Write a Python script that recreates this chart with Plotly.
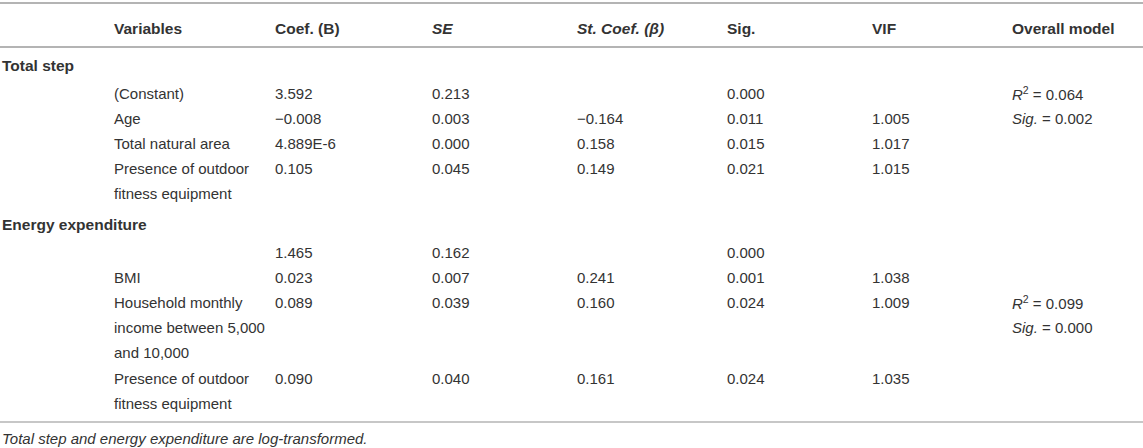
import plotly.graph_objects as go

# ---------------- data ----------------
headers = ["Variables", "Coef. (B)", "<i>SE</i>", "<i>St. Coef. (β)</i>", "Sig.", "VIF", "Overall model"]

groups = ["Total step", "Energy expenditure"]

variables_total = ["(Constant)", "Age", "Total natural area", "Presence of outdoor<br>fitness equipment"]
coef_total = ["3.592", "−0.008", "4.889E-6", "0.105"]
se_total = ["0.213", "0.003", "0.000", "0.045"]
stcoef_total = ["", "−0.164", "0.158", "0.149"]
sig_total = ["0.000", "0.011", "0.015", "0.021"]
vif_total = ["", "1.005", "1.017", "1.015"]
model_total = "<i>R</i><sup>2</sup> = 0.064<br><i>Sig.</i> = 0.002"
model_total_row = 0

variables_energy = ["", "BMI", "Household monthly<br>income between 5,000<br>and 10,000", "Presence of outdoor<br>fitness equipment"]
coef_energy = ["1.465", "0.023", "0.089", "0.090"]
se_energy = ["0.162", "0.007", "0.039", "0.040"]
stcoef_energy = ["", "0.241", "0.160", "0.161"]
sig_energy = ["0.000", "0.001", "0.024", "0.024"]
vif_energy = ["", "1.038", "1.009", "1.035"]
model_energy = "<i>R</i><sup>2</sup> = 0.099<br><i>Sig.</i> = 0.000"
model_energy_row = 2

footnote = "<i>Total step and energy expenditure are log-transformed.</i>"

# ---------------- layout ----------------
W, H = 1143, 448
FONT = "Liberation Sans, Arial, Helvetica, sans-serif"
TXT = "#333333"
LINE = "#b4b4b4"
FS = 15
FSB = 15.5
col_x = [112, 273, 430, 575, 725, 870, 1010]
group_x = 0
LH = 25.2

annotations = []


def add_text(x, y, text, bold=False, size=FS):
    if not text:
        return
    for i, line in enumerate(text.split("<br>")):
        if bold:
            line = "<b>" + line + "</b>"
        annotations.append(dict(
            x=x, y=y + i * LH, xref="x", yref="y", text=line,
            showarrow=False, xanchor="left", yanchor="middle",
            font=dict(family=FONT, size=size, color=TXT),
        ))


# header
for cx, h in zip(col_x, headers):
    add_text(cx, 28, h, bold=True, size=FSB)

group_data = [
    (variables_total, coef_total, se_total, stcoef_total, sig_total, vif_total, model_total, model_total_row),
    (variables_energy, coef_energy, se_energy, stcoef_energy, sig_energy, vif_energy, model_energy, model_energy_row),
]

y = 65
for gname, (vars_, coef, se, stc, sig, vif, model, mrow) in zip(groups, group_data):
    add_text(group_x, y, gname, bold=True, size=FSB)
    y += 28
    for r in range(len(vars_)):
        cells = [vars_[r], coef[r], se[r], stc[r], sig[r], vif[r]]
        for cx, c in zip(col_x[:6], cells):
            add_text(cx, y, c)
        if r == mrow:
            add_text(col_x[6], y, model)
        n = max(len(c.split("<br>")) for c in cells)
        y += n * LH
    y += 5

add_text(group_x, 438, footnote, size=FS)

shapes = []
for yy, w in [(3, 2), (47, 2), (422, 1.5)]:
    shapes.append(dict(type="line", xref="x", yref="y", x0=0, x1=W, y0=yy, y1=yy,
                       line=dict(color=LINE, width=w)))

fig = go.Figure(go.Scatter(x=[], y=[]))
fig.update_layout(
    width=W, height=H,
    margin=dict(l=0, r=0, t=0, b=0),
    paper_bgcolor="white", plot_bgcolor="white",
    xaxis=dict(range=[0, W], visible=False, fixedrange=True),
    yaxis=dict(range=[H, 0], visible=False, fixedrange=True),
    annotations=annotations, shapes=shapes, showlegend=False,
)
fig.write_html("out.html", config={"displayModeBar": False},
               post_script="document.body.style.margin='0px';document.body.style.overflow='hidden';")
